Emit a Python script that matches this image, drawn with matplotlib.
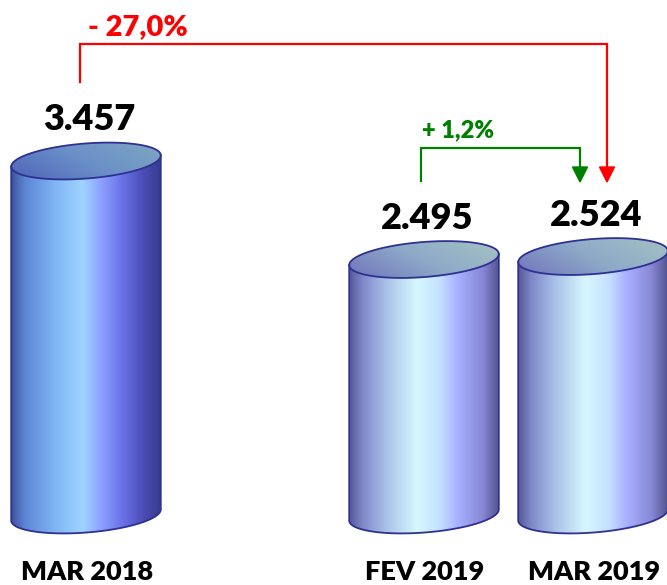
import numpy as np
import matplotlib.pyplot as plt
from matplotlib.colors import LinearSegmentedColormap
from matplotlib.patches import Polygon

# dados
categories = ['MAR 2018', 'FEV 2019', 'MAR 2019']
values = [3457, 2495, 2524]
value_labels = ['3.457', '2.495', '2.524']
change_long = '- 27,0%'
change_short = '+ 1,2%'

W, H = 667, 585
BASE_ROW = 515          # linha (pixel) do centro da base dos cilindros
U = 1 / 0.1024          # unidades de dado por pixel vertical

plt.rcParams['font.family'] = ['Lato', 'DejaVu Sans']

fig = plt.figure(figsize=(W / 100, H / 100), dpi=100)
ax = fig.add_axes([0, 0, 1, 1])
ax.set_xlim(0, W)
ax.set_ylim(-(H - BASE_ROW) * U, BASE_ROW * U)
ax.axis('off')


def row(r):
    # linha de pixel -> coordenada y
    return (BASE_ROW - r) * U


centers = [86, 424, 593]
half_w, semi_b, tilt = 75, 17.5, np.deg2rad(4.5)

body_cmaps = [
    LinearSegmentedColormap.from_list('b1', list(zip(
        [0, .1, .3, .48, .6, .74, .88, 1],
        ['#3a4a90', '#5c84d4', '#7fb6f4', '#9fd4ff', '#8ca0ff', '#6a70e6', '#4a4cb4', '#363a88']))),
    LinearSegmentedColormap.from_list('b2', list(zip(
        [0, .1, .25, .45, .6, .72, .88, 1],
        ['#4c5090', '#8088c8', '#a8c0e8', '#d6f7ff', '#c6e2ff', '#a8b0ff', '#8888d6', '#4e4e88']))),
]
top_cmaps = [
    LinearSegmentedColormap.from_list('t1', ['#5064b8', '#6a90c8', '#80a6c2']),
    LinearSegmentedColormap.from_list('t2', ['#7074bc', '#8eaac8', '#a4c2c4']),
]
edge = '#2e3190'

t_r = np.arctan(-(semi_b / half_w) * np.tan(tilt))
t_l = t_r + np.pi


def ell(t):
    dx = half_w * np.cos(t) * np.cos(tilt) - semi_b * np.sin(t) * np.sin(tilt)
    dy = half_w * np.cos(t) * np.sin(tilt) + semi_b * np.sin(t) * np.cos(tilt)
    return dx, dy * U


lower = np.linspace(t_l, t_r + 2 * np.pi, 120)
upper = np.linspace(t_r, t_l, 120)
full = np.linspace(0, 2 * np.pi, 240)

for i, (cx, v) in enumerate(zip(centers, values)):
    k = 0 if i == 0 else 1
    # corpo
    lx, ly = ell(lower)
    ux, uy = ell(upper)
    xs = np.concatenate([cx + lx, cx + ux])
    ys = np.concatenate([ly, v + uy])
    body = Polygon(np.column_stack([xs, ys]), closed=True, facecolor='none',
                   edgecolor='none', transform=ax.transData)
    ax.add_patch(body)
    grad = np.tile(np.linspace(0, 1, 256), (2, 1))
    im = ax.imshow(grad, cmap=body_cmaps[k], aspect='auto', origin='lower',
                   extent=[cx - half_w - 2, cx + half_w + 2, ys.min(), ys.max()],
                   zorder=1, interpolation='bilinear')
    im.set_clip_path(body)
    ox = np.concatenate([[cx + lx[0]], cx + lx, [cx + lx[-1]]])
    oy = np.concatenate([[v + ly[0]], ly, [v + ly[-1]]])
    ax.plot(ox, oy, color=edge, lw=1.3, zorder=3)

    # tampa
    fx, fy = ell(full)
    top = Polygon(np.column_stack([cx + fx, v + fy]), closed=True, facecolor='none',
                  edgecolor=edge, lw=1.3, zorder=4, transform=ax.transData)
    ax.add_patch(top)
    xx, yy = np.meshgrid(np.linspace(0, 1, 128), np.linspace(0, 1, 32))
    im2 = ax.imshow(0.7 * xx + 0.3 * yy, cmap=top_cmaps[k], aspect='auto', origin='lower',
                    extent=[cx - half_w - 2, cx + half_w + 2, v + fy.min(), v + fy.max()],
                    zorder=2, interpolation='bilinear')
    im2.set_clip_path(top)

    ax.text(cx + 3, v + 31 * U, value_labels[i], ha='center', va='baseline',
            fontsize=26, fontweight='heavy', color='black')
    ax.text(cx + 1, row(580), categories[i], ha='center', va='baseline',
            fontsize=19.5, fontweight='heavy', color='black')

# setas de variação
red, green = '#ff0000', '#008000'
ax.plot([80, 80, 607, 607], [row(82), row(44), row(44), row(168)], color=red, lw=1.6,
        solid_joinstyle='miter', zorder=5)
ax.fill([599.5, 614.5, 607], [row(167), row(167), row(182)], color=red, zorder=5)
ax.plot([421, 421, 580, 580], [row(181), row(148), row(148), row(168)], color=green, lw=1.6,
        solid_joinstyle='miter', zorder=5)
ax.fill([572.5, 587.5, 580], [row(167), row(167), row(182)], color=green, zorder=5)

ax.text(138, row(35), change_long, ha='center', va='baseline', fontsize=21,
        fontweight='heavy', color=red)
ax.text(458, row(137), change_short, ha='center', va='baseline', fontsize=17,
        fontweight='heavy', color=green)

fig.savefig('out.png', dpi=100)
